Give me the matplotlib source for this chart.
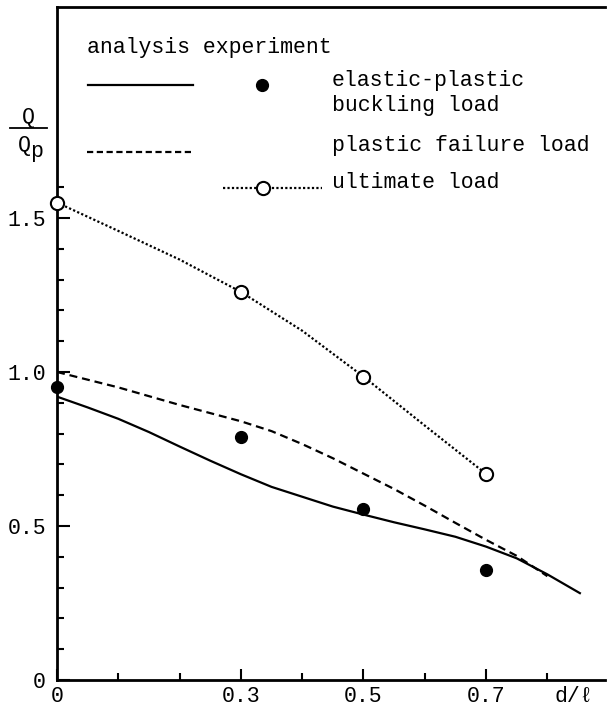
import numpy as np
import matplotlib.pyplot as plt
from matplotlib.lines import Line2D

plt.rcParams['font.family'] = ['Liberation Mono', 'DejaVu Sans Mono']

# analysis curves (d/l, Q/Qp)
buck_x = [0, 0.05, 0.1, 0.15, 0.2, 0.25, 0.3, 0.35, 0.4, 0.45, 0.5, 0.55, 0.6, 0.65,
          0.7, 0.75, 0.8, 0.853]
buck_y = [0.92, 0.885, 0.848, 0.805, 0.758, 0.712, 0.668, 0.627, 0.595, 0.563, 0.537,
          0.512, 0.489, 0.465, 0.433, 0.395, 0.343, 0.282]

fail_x = [0, 0.1, 0.2, 0.3, 0.35, 0.4, 0.45, 0.5, 0.55, 0.6, 0.65, 0.7, 0.75, 0.8]
fail_y = [1.0, 0.95, 0.893, 0.84, 0.808, 0.766, 0.72, 0.67, 0.62, 0.566, 0.51, 0.455,
          0.403, 0.337]

ult_x = [0, 0.1, 0.2, 0.3, 0.4, 0.5, 0.6, 0.7]
ult_y = [1.55, 1.458, 1.365, 1.26, 1.134, 0.985, 0.826, 0.669]

# experiments
exp_buck_x = [0, 0.3, 0.5, 0.7]
exp_buck_y = [0.952, 0.79, 0.555, 0.357]
exp_ult_x = [0, 0.3, 0.5, 0.7]
exp_ult_y = [1.55, 1.26, 0.985, 0.669]

W, H = 607, 709
fig = plt.figure(figsize=(W / 100, H / 100), dpi=100)
ax = fig.add_axes([57 / W, 29 / H, 548 / W, 673 / H])

dash = (0, (3.6, 2.2))
dots = (0, (1, 1))

ax.plot(buck_x, buck_y, color='black', lw=1.6)
ax.plot(fail_x, fail_y, color='black', lw=1.6, linestyle=dash)
ax.plot(ult_x, ult_y, color='black', lw=1.6, linestyle=dots)
ax.plot(exp_buck_x, exp_buck_y, 'o', color='black', ms=8.5, clip_on=False, zorder=5)
ax.plot(exp_ult_x, exp_ult_y, 'o', mfc='white', mec='black', mew=1.5, ms=9.5,
        clip_on=False, zorder=5)

ax.set_xlim(0, 0.894)
ax.set_ylim(0, 2.185)
ax.spines['right'].set_visible(False)
for s in ['left', 'bottom', 'top']:
    ax.spines[s].set_linewidth(2)

ax.set_xticks([0, 0.3, 0.5, 0.7])
ax.set_xticklabels(['0', '0.3', '0.5', '0.7'])
ax.set_xticks([0.1, 0.2, 0.4, 0.6, 0.8], minor=True)
ax.set_yticks([0, 0.5, 1.0, 1.5])
ax.set_yticklabels(['0', '0.5', '1.0', '1.5'])
ax.set_yticks(np.arange(1, 17) / 10, minor=True)
ax.tick_params(which='both', direction='in', width=1.5, labelsize=15.5)
ax.tick_params(which='major', length=8, pad=8)
ax.tick_params(which='minor', length=5)
ax.tick_params(axis='y', which='major', length=9)
ax.tick_params(axis='x', which='major', pad=4)

ax.text(0.843, -0.02, 'd/ℓ', transform=ax.transData, ha='center', va='top', fontsize=15.5)


def fx(px):
    return px / W


def fy(py):
    return 1 - py / H


# y label as a fraction Q / Qp
fig.text(fx(28), fy(117), 'Q', ha='center', va='center', fontsize=15.5)
fig.add_artist(Line2D([fx(10), fx(47)], [fy(128), fy(128)], color='black', lw=1.3))
fig.text(fx(24), fy(145), 'Q', ha='center', va='center', fontsize=15.5)
fig.text(fx(36), fy(152), 'p', ha='center', va='center', fontsize=15.5)

# legend drawn by hand
fs = 15.5
fig.text(fx(87), fy(47), 'analysis experiment', ha='left', va='center', fontsize=fs)
fig.add_artist(Line2D([fx(88), fx(193)], [fy(85), fy(85)], color='black', lw=1.6))
fig.add_artist(Line2D([fx(262)], [fy(85)], marker='o', color='black', ms=8.5))
fig.text(fx(332), fy(93), 'elastic-plastic\nbuckling load', ha='left', va='center',
         fontsize=fs, linespacing=1.22)
fig.add_artist(Line2D([fx(87), fx(192)], [fy(152), fy(152)], color='black', lw=1.6,
                      linestyle=(0, (2.8, 1.6))))
fig.text(fx(332), fy(145), 'plastic failure load', ha='left', va='center', fontsize=fs)
fig.add_artist(Line2D([fx(223), fx(322)], [fy(188), fy(188)], color='black', lw=1.6,
                      linestyle=dots))
fig.add_artist(Line2D([fx(263)], [fy(188)], marker='o', mfc='white', mec='black',
                      mew=1.5, ms=9.5))
fig.text(fx(332), fy(183), 'ultimate load', ha='left', va='center', fontsize=fs)

fig.savefig('out.png', dpi=100)
